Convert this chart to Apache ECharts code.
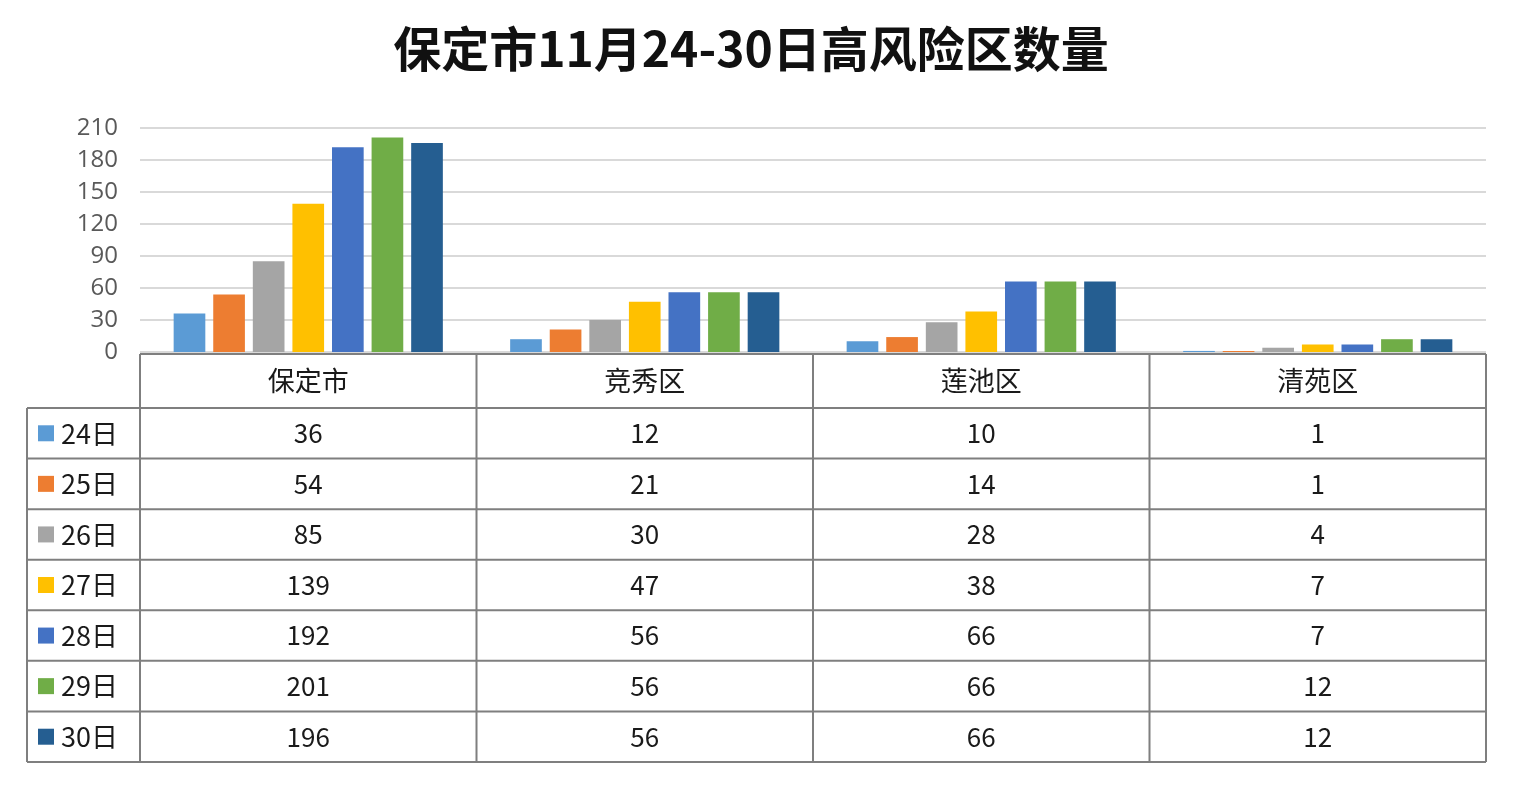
<!DOCTYPE html>
<html><head><meta charset="utf-8">
<script src="https://cdn.jsdelivr.net/npm/echarts@6/dist/echarts.min.js"></script>
<style>html,body{margin:0;padding:0;background:#fff}#c{width:1519px;height:800px}</style>
</head><body><div id="c"></div>
<script>
const title = '保定市11月24-30日高风险区数量';
const categories = ['保定市', '竞秀区', '莲池区', '清苑区'];
const days = ['24日', '25日', '26日', '27日', '28日', '29日', '30日'];
const d24 = [36, 12, 10, 1];
const d25 = [54, 21, 14, 1];
const d26 = [85, 30, 28, 4];
const d27 = [139, 47, 38, 7];
const d28 = [192, 56, 66, 7];
const d29 = [201, 56, 66, 12];
const d30 = [196, 56, 66, 12];
const yTicks = [0, 30, 60, 90, 120, 150, 180, 210];

const seriesData = [d24, d25, d26, d27, d28, d29, d30];
const colors = ['#5B9BD5', '#ED7D31', '#A5A5A5', '#FFC000', '#4472C4', '#70AD47', '#255E91'];

const W = 1519, H = 800;
const gridL = 140, gridR = 33, gridT = 128, gridB = 448;
const plotW = W - gridL - gridR;
const colW = plotW / categories.length;
const headTop = H - gridB + 2, headBot = 408, tableBot = 762;
const rowH = (tableBot - headBot) / days.length;
const leftX = 27;
const lineColor = '#7f7f7f';
const txtFont = '"Noto Sans CJK SC", "Noto Sans", sans-serif';

const g = [];
function hline(x1, x2, y) { g.push({type:'line', shape:{x1, y1:y, x2, y2:y}, style:{stroke:lineColor, lineWidth:2}}); }
function vline(x, y1, y2) { g.push({type:'line', shape:{x1:x, y1, x2:x, y2}, style:{stroke:lineColor, lineWidth:2}}); }
hline(gridL, gridL + plotW, headTop);
hline(leftX, gridL + plotW, headBot);
for (let i = 1; i <= days.length; i++) hline(leftX, gridL + plotW, headBot + rowH * i);
for (let c = 0; c <= categories.length; c++) vline(gridL + colW * c, headTop, tableBot);
vline(leftX, headBot, tableBot);
categories.forEach((name, c) => {
  g.push({type:'text', x: gridL + colW * (c + 0.5), y: (headTop + headBot) / 2,
    style:{text:name, fill:'#1a1a1a', font:'27px ' + txtFont, textAlign:'center', textVerticalAlign:'middle'}});
});
days.forEach((d, r) => {
  const cy = headBot + rowH * (r + 0.5);
  g.push({type:'rect', shape:{x:38, y:cy - 8, width:16, height:16}, style:{fill:colors[r]}});
  g.push({type:'text', x:61, y:cy, style:{text:d, fill:'#1a1a1a', font:'27px ' + txtFont, textAlign:'left', textVerticalAlign:'middle'}});
  seriesData[r].forEach((v, c) => {
    g.push({type:'text', x: gridL + colW * (c + 0.5), y: cy,
      style:{text:String(v), fill:'#1a1a1a', font:'26px ' + txtFont, textAlign:'center', textVerticalAlign:'middle'}});
  });
});

const chart = echarts.init(document.getElementById('c'), null, {renderer:'canvas'});
chart.setOption({
  animation:false,
  backgroundColor:'#fff',
  title:{text:title, left:746, top:20, textAlign:'center',
    textStyle:{fontSize:48, fontWeight:'bold', color:'#111', fontFamily:txtFont}},
  grid:{left:gridL, right:gridR, top:gridT, bottom:gridB, containLabel:false},
  xAxis:{type:'category', data:categories, axisLine:{show:false}, axisTick:{show:false}, axisLabel:{show:false}},
  yAxis:{type:'value', min:yTicks[0], max:yTicks[yTicks.length-1], interval:yTicks[1]-yTicks[0],
    axisLine:{show:false}, axisTick:{show:false},
    axisLabel:{color:'#595959', fontSize:24, margin:22, fontFamily:'"Open Sans", sans-serif'},
    splitLine:{lineStyle:{color:'#d9d9d9', width:2}}},
  series: days.map((d, i) => ({
    name:d, type:'bar', data:seriesData[i], barGap:'25%', barCategoryGap:'20%',
    itemStyle:{color:colors[i]}
  })),
  graphic:g
});
</script></body></html>
